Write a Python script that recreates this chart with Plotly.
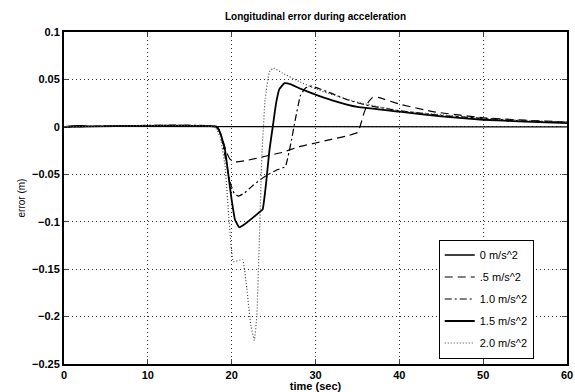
import plotly.graph_objects as go

# ---- data ----
t_a0 = [0, 1, 2, 3, 60]
e_a0 = [0.0, 0.001, 0.0012, 0.0005, 0.0]

t_a05 = [0, 18.3, 18.8, 19.3, 19.8, 20.5, 22, 24, 26, 28, 30, 32, 34, 35, 35.3, 35.8, 36.3, 36.8, 37.5, 40, 44, 50, 55, 60]
e_a05 = [0, 0, -0.01, -0.025, -0.034, -0.037, -0.035, -0.031, -0.027, -0.021, -0.017, -0.013, -0.009, -0.006, 0.0, 0.015, 0.026, 0.031, 0.031, 0.024, 0.016, 0.0095, 0.007, 0.005]

t_a10 = [0, 18.3, 18.8, 19.3, 19.8, 20.3, 20.8, 21.5, 22.5, 24, 25.5, 26.4, 27.0, 27.6, 28.2, 28.8, 29.5, 32, 34, 36, 40, 45, 50, 55, 60]
e_a10 = [0, 0, -0.012, -0.035, -0.058, -0.07, -0.073, -0.07, -0.062, -0.052, -0.045, -0.042, -0.02, 0.008, 0.033, 0.041, 0.043, 0.035, 0.028, 0.023, 0.017, 0.012, 0.009, 0.006, 0.005]

t_a15 = [0, 18.2, 18.7, 19.2, 19.6, 20.0, 20.4, 20.9, 21.5, 22.5, 23.3, 23.7, 24.1, 24.5, 24.9, 25.3, 25.7, 26.3, 27, 28, 30, 32, 35, 40, 45, 50, 55, 60]
e_a15 = [0, 0, -0.008, -0.024, -0.05, -0.077, -0.098, -0.106, -0.103, -0.096, -0.09, -0.087, -0.06, -0.025, 0.0, 0.025, 0.04, 0.046, 0.045, 0.041, 0.034, 0.028, 0.021, 0.016, 0.011, 0.0075, 0.0055, 0.004]

t_a20 = [0, 18.0, 18.6, 19.2, 19.7, 20.2, 21.3, 21.8, 22.3, 22.7, 23.0, 23.3, 23.6, 24.0, 24.5, 25.0, 26, 28, 30, 32, 35, 40, 50, 60]
e_a20 = [0, 0, -0.01, -0.04, -0.1, -0.142, -0.14, -0.17, -0.21, -0.225, -0.2, -0.12, -0.03, 0.03, 0.058, 0.062, 0.057, 0.048, 0.04, 0.034, 0.026, 0.017, 0.009, 0.005]

labels = ["0 m/s^2", ".5 m/s^2", "1.0 m/s^2", "1.5 m/s^2", "2.0 m/s^2"]
x_ticks = [0, 10, 20, 30, 40, 50, 60]
y_ticks = [-0.25, -0.2, -0.15, -0.1, -0.05, 0, 0.05, 0.1]
y_ticktext = ["\u22120.25", "\u22120.2", "\u22120.15", "\u22120.1", "\u22120.05", "0", "0.05", "0.1"]

series = [
    (t_a0, e_a0, labels[0], "solid", 1.3, "black"),
    (t_a05, e_a05, labels[1], "8px,5px", 1.2, "black"),
    (t_a10, e_a10, labels[2], "7px,3px,2px,3px", 1.2, "black"),
    (t_a15, e_a15, labels[3], "solid", 1.8, "black"),
    (t_a20, e_a20, labels[4], "1px,2px", 1.2, "#444444"),
]

fig = go.Figure()
for i, (t, e, name, dash, w, col) in enumerate(series):
    fig.add_trace(go.Scatter(x=t, y=e, mode="lines", name=name, legendgroup=f"g{i}",
                             line=dict(color=col, dash=dash, width=w, shape="spline", smoothing=0.3)))

font_family = "Liberation Sans, Arial, Helvetica, sans-serif"
fig.update_layout(
    width=575, height=392,
    margin=dict(l=64, r=8, t=32, b=28),
    paper_bgcolor="white", plot_bgcolor="white",
    font=dict(family=font_family, size=11, color="black"),
    title=dict(text="Longitudinal error during acceleration", x=0.5, xref="paper",
               y=1 - 16 / 392, yanchor="middle", xanchor="center",
               font=dict(size=10, family=font_family, color="black", weight="bold")),
    showlegend=True,
    legend=dict(x=0.745, y=0.375, xanchor="left", yanchor="top",
                bgcolor="white", bordercolor="black", borderwidth=1,
                font=dict(size=11, family=font_family), tracegroupgap=3,
                itemwidth=30),
)
grid_dash = "1px,3px"
fig.update_xaxes(range=[0, 60], tickvals=x_ticks, ticks="inside", ticklen=5,
                 showline=True, linecolor="black", linewidth=2, mirror="ticks",
                 showgrid=True, gridcolor="#333333", griddash=grid_dash, gridwidth=1,
                 zeroline=False, automargin=False,
                 tickfont=dict(size=11, weight="bold"),
                 title=dict(text="time (sec)", font=dict(size=11, weight="bold"), standoff=2))
fig.update_yaxes(range=[-0.25, 0.1], tickvals=y_ticks, ticktext=y_ticktext, ticks="inside", ticklen=5,
                 showline=True, linecolor="black", linewidth=2, mirror="ticks",
                 showgrid=True, gridcolor="#333333", griddash=grid_dash, gridwidth=1,
                 zeroline=False, automargin=False,
                 tickfont=dict(size=11, weight="bold"),
                 title=dict(text="error (m)", font=dict(size=10), standoff=4))

fig.write_html("out.html")
